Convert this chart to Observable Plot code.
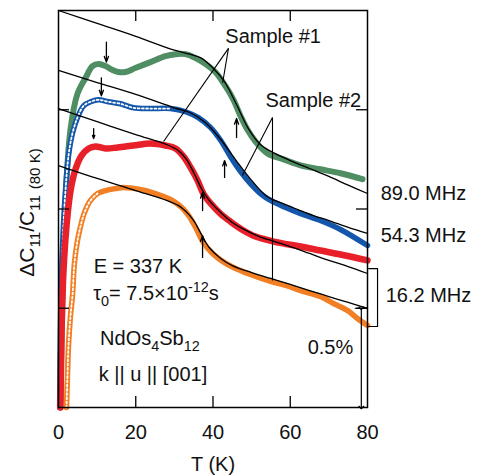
<!DOCTYPE html>
<html><head><meta charset="utf-8">
<script src="https://cdn.jsdelivr.net/npm/d3@7"></script>
<script src="https://cdn.jsdelivr.net/npm/@observablehq/plot@0.6"></script>
<style>body{margin:0;background:#fff} svg{font-family:Arial,"Liberation Sans",sans-serif}</style>
</head><body><div id="chart"></div>
<script>
// ---- axis ticks ----
const xTickValues = [0, 20, 40, 60, 80];
const innerXTicks = [20, 40, 60];
const innerYTicks = [0.5, 1.0, 1.5];

// ---- 89.0 MHz (green) ----
const greenT = [0.5,1.0,1.8,3.1,4.9,7.0,8.8,10.4,12.2,14.0,15.5,17.3,19.9,23.8,27.7,30.3,32.9,35.5,38.1,40.6,43.2,45.3,47.1,48.9,51.0,54.1,58.3,62.7,67.8,73.0,78.7];
const greenV = [0,0.54,1.04,1.40,1.58,1.66,1.72,1.73,1.72,1.70,1.69,1.69,1.71,1.74,1.77,1.78,1.78,1.76,1.73,1.69,1.62,1.55,1.47,1.40,1.34,1.28,1.25,1.22,1.20,1.18,1.15];
const greenFitT = [0,10,20,30,34,37,40,43,46,49,52,55,60,65,70,75,80];
const greenFitV = [2.0,1.935,1.87,1.80,1.78,1.76,1.71,1.64,1.53,1.41,1.33,1.29,1.244,1.204,1.164,1.12,1.078];

// ---- 54.3 MHz (blue) ----
const blueT = [0.3,0.5,1.0,1.8,2.6,3.6,4.9,6.5,8.3,10.4,12.9,16.1,19.4,23.8,29.0,32.9,36.2,39.4,42.0,44.5,47.1,49.7,52.3,54.9,58.8,62.7,67.8,73.0,80];
const blueV = [0,0.39,0.79,1.09,1.27,1.38,1.46,1.52,1.54,1.55,1.54,1.53,1.51,1.506,1.506,1.49,1.46,1.41,1.345,1.265,1.19,1.128,1.078,1.043,1.008,0.977,0.942,0.897,0.816];
const blueFitT = [0,10,20,30,34,38,42,46,50,54,58,62,66,70,75,80];
const blueFitV = [1.698,1.637,1.577,1.51,1.486,1.436,1.35,1.244,1.144,1.063,1.028,0.997,0.967,0.942,0.907,0.877];

// ---- 16.2 MHz (red) ----
const redT = [0.5,0.8,1.3,2.1,3.1,4.4,6.0,7.8,9.6,12.2,15.3,19.4,23.8,27.7,30.3,32.4,34.2,36.0,37.5,39.4,41.9,44.5,47.9,51.0,55.7,62.7,67.8,73.0,80];
const redV = [0,0.39,0.69,0.92,1.09,1.20,1.27,1.305,1.315,1.305,1.31,1.32,1.33,1.32,1.305,1.264,1.209,1.144,1.078,1.028,0.977,0.937,0.892,0.861,0.836,0.811,0.791,0.771,0.741];
const redFitT = [0,10,20,28,31,33,35,37,39,42,45,48,52,56,60,65,70,75,80];
const redFitV = [1.506,1.44,1.375,1.325,1.295,1.254,1.184,1.103,1.043,0.982,0.932,0.897,0.861,0.836,0.811,0.776,0.741,0.710,0.675];

// ---- 16.2 MHz (orange) ----
const orangeT = [2.07,2.33,2.59,3.11,3.62,4.14,4.92,5.70,6.73,8.28,10.1,12.2,14.8,16.8,21.2,25.1,29.0,31.6,33.7,35.5,37.5,39.9,42.5,45.3,49.7,54.1,58.8,62.7,67.8,71.2,74.8,77.4,80];
const orangeV = [0,0.161,0.312,0.463,0.564,0.730,0.841,0.912,0.982,1.043,1.078,1.093,1.103,1.108,1.098,1.078,1.048,1.013,0.967,0.907,0.831,0.776,0.736,0.705,0.670,0.640,0.615,0.589,0.559,0.524,0.489,0.448,0.413];
const orangeFitT = [0,10,20,28,31,33,35,37,39,42,45,50,55,60,65,70,75,80];
const orangeFitV = [1.219,1.154,1.093,1.043,1.018,0.987,0.942,0.872,0.806,0.751,0.715,0.680,0.650,0.620,0.589,0.559,0.529,0.499];

// ---- arrows ----
const downArrowT = [12.4, 11.1, 9.1];
const downArrowFrom = [1.84, 1.66, 1.405];
const downArrowTo = [1.74, 1.57, 1.355];
const upArrowT = [46.1, 43.0, 37.3, 37.3];
const upArrowFrom = [1.36, 1.159, 0.992, 0.756];
const upArrowTo = [1.456, 1.244, 1.083, 0.866];

// ---- sample pointers ----
const pointerX1 = [44.0, 44.0, 55.4, 55.4];
const pointerY1 = [1.809, 1.809, 1.461, 1.461];
const pointerX2 = [42.5, 27.2, 47.6, 55.4];
const pointerY2 = [1.636, 1.340, 1.169, 0.640];

// ---- 0.5% scale bar and bracket ----
const scaleBarT = [78.4];
const scaleBarTop = [0.5];
const scaleBarBottom = [0.0];
const scaleCapT = [76.8, 80];
const scaleCapV = [0.5, 0.5];
const bracketT = [80.3, 82.6, 82.6, 80.3];
const bracketV = [0.700, 0.700, 0.408, 0.408];

// ---- plain labels ----
const labelText = ["Sample #1", "Sample #2", "89.0 MHz", "54.3 MHz", "16.2 MHz", "0.5%", "E = 337 K", "k || u || [001]"];
const labelT = [43.2, 53.6, 83.4, 83.4, 84.7, 64.5, 9.1, 10.4];
const labelV = [1.834, 1.516, 1.043, 0.836, 0.529, 0.272, 0.680, 0.136];

// ---- rich labels (sub/superscripts) ----
const richParts = [
  [["τ",""],["0","sub"],["= 7.5×10",""],["-12","sup"],["s",""]],
  [["NdOs",""],["4","sub"],["Sb",""],["12","sub"]]
];
const richT = [9.1, 10.9];
const richV = [0.539, 0.312];
const yTitleParts = [["ΔC",""],["11","sub"],["/C",""],["11","sub"],[" ",""],["(80 K)","sub"]];

const pts = (T, V) => T.map((t, i) => ({T: t, V: V[i]}));
const green = pts(greenT, greenV), greenFit = pts(greenFitT, greenFitV);
const blue = pts(blueT, blueV), blueFit = pts(blueFitT, blueFitV);
const red = pts(redT, redV), redFit = pts(redFitT, redFitV);
const orange = pts(orangeT, orangeV), orangeFit = pts(orangeFitT, orangeFitV);
const downArrows = downArrowT.map((t, i) => ({T: t, a: downArrowFrom[i], b: downArrowTo[i]}));
const upArrows = upArrowT.map((t, i) => ({T: t, a: upArrowFrom[i], b: upArrowTo[i]}));
const pointers = pointerX1.map((x, i) => ({x1: x, y1: pointerY1[i], x2: pointerX2[i], y2: pointerY2[i]}));
const labels = labelText.map((s, i) => ({s, T: labelT[i], V: labelV[i]}));

const C = {green: "#4f8d63", blue: "#1457aa", red: "#e8202a", orange: "#f27f24", ink: "#111"};
const curve = "catmull-rom";
const W = 480, H = 475, ML = 58, MR = 113, MT = 10, MB = 68, TICK = 11;
const innerW = W - ML - MR, innerH = H - MT - MB;

const plot = Plot.plot({
  width: W, height: H,
  marginLeft: ML, marginRight: MR, marginTop: MT, marginBottom: MB,
  x: {domain: [0, 80]},
  y: {domain: [0, 2], axis: null},
  style: {fontFamily: "Arial, 'Liberation Sans', sans-serif", fontSize: "20px", background: "white", color: C.ink},
  marks: [
    // data curves
    Plot.line(green, {x: "T", y: "V", stroke: C.green, strokeWidth: 6, curve}),
    Plot.line(blue, {x: "T", y: "V", stroke: C.blue, strokeWidth: 5.5, curve}),
    Plot.line(blue.filter(d => d.T <= 29), {x: "T", y: "V", stroke: "white", strokeWidth: 1.8, strokeDasharray: "1.8 2.4", curve}),
    Plot.line(red, {x: "T", y: "V", stroke: C.red, strokeWidth: 6.5, curve}),
    Plot.line(orange, {x: "T", y: "V", stroke: C.orange, strokeWidth: 5.5, curve}),
    Plot.line(orange.filter(d => d.T <= 11), {x: "T", y: "V", stroke: "white", strokeWidth: 1.8, strokeDasharray: "1.8 2.4", curve}),
    // fits
    Plot.line(greenFit, {x: "T", y: "V", stroke: "black", strokeWidth: 1.3, curve}),
    Plot.line(blueFit, {x: "T", y: "V", stroke: "black", strokeWidth: 1.3, curve}),
    Plot.line(redFit, {x: "T", y: "V", stroke: "black", strokeWidth: 1.3, curve}),
    Plot.line(orangeFit, {x: "T", y: "V", stroke: "black", strokeWidth: 1.3, curve}),
    // arrows
    Plot.arrow(downArrows, {x1: "T", x2: "T", y1: "a", y2: "b", stroke: "black", strokeWidth: 1.3, headLength: 7, headAngle: 40}),
    Plot.arrow(upArrows, {x1: "T", x2: "T", y1: "a", y2: "b", stroke: "black", strokeWidth: 1.3, headLength: 7, headAngle: 40}),
    // pointers
    Plot.link(pointers, {x1: "x1", y1: "y1", x2: "x2", y2: "y2", stroke: "black", strokeWidth: 1.1}),
    // scale bar and bracket
    Plot.link(scaleBarT, {x1: d => d, x2: d => d, y1: () => scaleBarTop[0], y2: () => scaleBarBottom[0], stroke: "black", strokeWidth: 1.2, markerStart: "arrow", markerEnd: "arrow"}),
    Plot.line(pts(scaleCapT, scaleCapV), {x: "T", y: "V", stroke: "black", strokeWidth: 1.2}),
    Plot.line(pts(bracketT, bracketV), {x: "T", y: "V", stroke: "black", strokeWidth: 1.2}),
    // frame and inward ticks
    Plot.frame({stroke: "black", strokeWidth: 1.5}),
    Plot.ruleX(innerXTicks, {x: d => d, insetTop: innerH - TICK, stroke: "black", strokeWidth: 1.3}),
    Plot.ruleX(innerXTicks, {x: d => d, insetBottom: innerH - TICK, stroke: "black", strokeWidth: 1.3}),
    Plot.ruleY(innerYTicks, {y: d => d, insetRight: innerW - TICK, stroke: "black", strokeWidth: 1.3}),
    Plot.ruleY(innerYTicks, {y: d => d, insetLeft: innerW - TICK, stroke: "black", strokeWidth: 1.3}),
    Plot.axisX(xTickValues, {anchor: "bottom", tickSize: 0, tickPadding: 17, fontSize: 20, label: null}),
    Plot.text(["T (K)"], {frameAnchor: "bottom", dy: 63, lineAnchor: "bottom", fontSize: 20, fill: C.ink}),
    // labels
    Plot.text(labels, {x: "T", y: "V", text: "s", textAnchor: "start", lineAnchor: "bottom", fontSize: 20, fill: C.ink})
  ]
});

// rich text with sub/superscripts, positioned through Plot's scales
const sx = plot.scale("x"), sy = plot.scale("y");
const svg = d3.select(plot);
function addRich(parent, x, y, parts, size, anchor) {
  const t = parent.append("text").attr("x", x).attr("y", y)
    .attr("font-size", size).attr("text-anchor", anchor || "start").attr("fill", C.ink)
    .attr("font-family", "Arial, 'Liberation Sans', sans-serif");
  let shift = 0;
  for (const [s, kind] of parts) {
    const target = kind === "sub" ? size * 0.3 : kind === "sup" ? -size * 0.42 : 0;
    const sp = t.append("tspan").attr("dy", target - shift).text(s);
    if (kind) sp.attr("font-size", size * 0.72);
    shift = target;
  }
  return t;
}
richParts.forEach((parts, i) => addRich(svg, sx.apply(richT[i]), sy.apply(richV[i]), parts, 20));
const g = svg.append("g").attr("transform", `translate(${sx.apply(-6.2)},${sy.apply(0.98)}) rotate(-90)`);
addRich(g, 0, 0, yTitleParts, 21, "middle");

document.getElementById("chart").append(plot);
</script>
</body></html>
